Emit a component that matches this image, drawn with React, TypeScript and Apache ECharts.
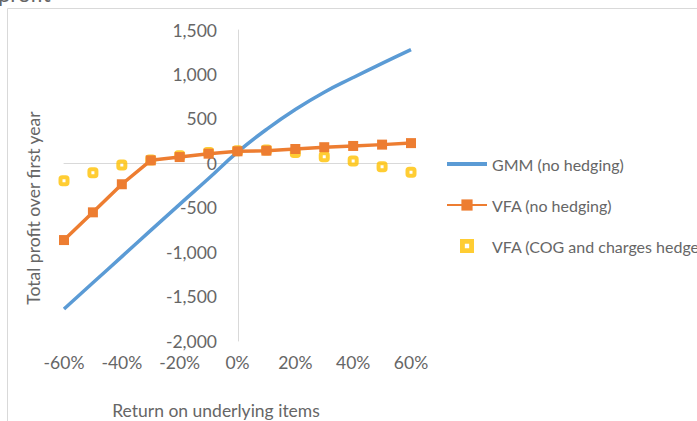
import React, { useEffect, useRef } from "react";
import * as echarts from "echarts";

const returns = [-60, -50, -40, -30, -20, -10, 0, 10, 20, 30, 40, 50, 60];
const gmmNoHedging = [-1640, -1345, -1050, -755, -462, -172, 125, 380, 605, 800, 965, 1125, 1280];
const vfaNoHedging = [-864, -552, -236, 33, 70, 108, 135, 142, 161, 181, 195, 210, 227];
const vfaCogHedge = [-196, -106, -19, 37, 86, 120, 142, 150, 122, 74, 26, -38, -101];
const seriesNames = ["GMM (no hedging)", "VFA (no hedging)", "VFA (COG and charges hedge)"];
const yTitle = "Total profit over first year";
const xTitle = "Return on underlying items";

const FONT = "Lato";
const TXT = "#666666";
const GRID = "#d9d9d9";

export default function App() {
  const ref = useRef<HTMLDivElement>(null);
  useEffect(() => {
    if (!ref.current) return;
    const chart = echarts.init(ref.current, undefined, { renderer: "svg" });
    const pair = (vals: number[]) => returns.map((r, i) => [r, vals[i]]);
    chart.setOption({
      animation: false,
      backgroundColor: "#ffffff",
      textStyle: { fontFamily: FONT },
      grid: [
        { left: 64, right: 286, top: 30, bottom: 80, containLabel: false },
        { left: 238, right: 286, top: 30, bottom: 80, containLabel: false },
      ],
      xAxis: [
        {
          type: "value",
          gridIndex: 0,
          min: -60,
          max: 60,
          interval: 20,
          position: "bottom",
          axisLine: { show: false, onZero: false },
          axisTick: { show: false },
          splitLine: { show: false },
          axisLabel: {
            color: TXT,
            fontSize: 17.5,
            fontFamily: FONT,
            margin: 12,
            formatter: (v: number) => `${v}%`,
          },
        },
        {
          type: "value",
          gridIndex: 0,
          min: -60,
          max: 60,
          interval: 20,
          axisLine: { show: true, onZero: true, lineStyle: { color: GRID, width: 1 } },
          axisTick: { show: false },
          axisLabel: { show: false },
          splitLine: { show: false },
        },
        {
          type: "value",
          gridIndex: 1,
          min: 0,
          max: 60,
          show: false,
        },
      ],
      yAxis: [
        {
          type: "value",
          gridIndex: 0,
          min: -2000,
          max: 1500,
          interval: 500,
          axisLine: { show: false, onZero: false },
          axisTick: { show: false },
          axisLabel: { show: false },
          splitLine: { show: false },
        },
        {
          type: "value",
          gridIndex: 1,
          min: -2000,
          max: 1500,
          interval: 500,
          position: "left",
          axisLine: { show: true, onZero: false, lineStyle: { color: GRID, width: 1 } },
          axisTick: { show: false },
          splitLine: { show: false },
          axisLabel: {
            color: TXT,
            fontSize: 17.5,
            fontFamily: FONT,
            margin: 21,
            formatter: (v: number) => v.toLocaleString("en-US"),
          },
        },
      ],
      legend: {
        orient: "vertical",
        left: 441,
        top: 149,
        itemWidth: 40,
        itemHeight: 14,
        itemGap: 21,
        selectedMode: false,
        textStyle: { color: TXT, fontSize: 16, fontFamily: FONT, lineHeight: 20 },
        data: [
          { name: seriesNames[0], icon: "path://M0,0h40v4h-40z" },
          { name: seriesNames[1] },
          {
            name: seriesNames[2],
            icon: "path://M0,0h13v13h-13z M4.5,4.5v4h4v-4z",
            itemStyle: { color: "#FFC000", borderWidth: 0 },
          },
        ],
      },
      series: [
        {
          name: seriesNames[0],
          type: "line",
          xAxisIndex: 0,
          yAxisIndex: 0,
          smooth: true,
          showSymbol: false,
          symbol: "none",
          data: pair(gmmNoHedging),
          lineStyle: { color: "#5B9BD5", width: 3.5 },
          itemStyle: { color: "#5B9BD5" },
        },
        {
          name: seriesNames[1],
          type: "line",
          xAxisIndex: 0,
          yAxisIndex: 0,
          symbol: "rect",
          symbolSize: 10,
          data: pair(vfaNoHedging),
          lineStyle: { color: "#ED7D31", width: 3.5 },
          itemStyle: { color: "#ED7D31" },
        },
        {
          name: seriesNames[2],
          type: "scatter",
          xAxisIndex: 0,
          yAxisIndex: 0,
          symbol: "roundRect",
          symbolSize: 7,
          data: pair(vfaCogHedge),
          itemStyle: { color: "rgba(0,0,0,0)", borderColor: "#FFC000", borderWidth: 4 },
        },
      ],
      graphic: [
        {
          type: "polyline",
          silent: true,
          shape: { points: [[7.5, 421], [7.5, 8.5], [697, 8.5]] },
          style: { stroke: GRID, fill: "none", lineWidth: 1 },
        },
        {
          type: "text",
          left: -2,
          top: -18,
          silent: true,
          style: { text: "profit", fontSize: 22, fontFamily: FONT, fill: TXT },
        },
        {
          type: "text",
          x: 33,
          y: 208,
          rotation: Math.PI / 2,
          silent: true,
          style: {
            text: yTitle,
            fontSize: 17.5,
            fontFamily: FONT,
            fill: TXT,
            align: "center",
            verticalAlign: "middle",
          },
        },
        {
          type: "text",
          x: 216,
          y: 410,
          silent: true,
          style: {
            text: xTitle,
            fontSize: 17.5,
            fontFamily: FONT,
            fill: TXT,
            align: "center",
            verticalAlign: "middle",
          },
        },
      ],
    });
    return () => chart.dispose();
  }, []);
  return (
    <div
      ref={ref}
      style={{ position: "fixed", left: 0, top: 0, width: 697, height: 421 }}
    />
  );
}
